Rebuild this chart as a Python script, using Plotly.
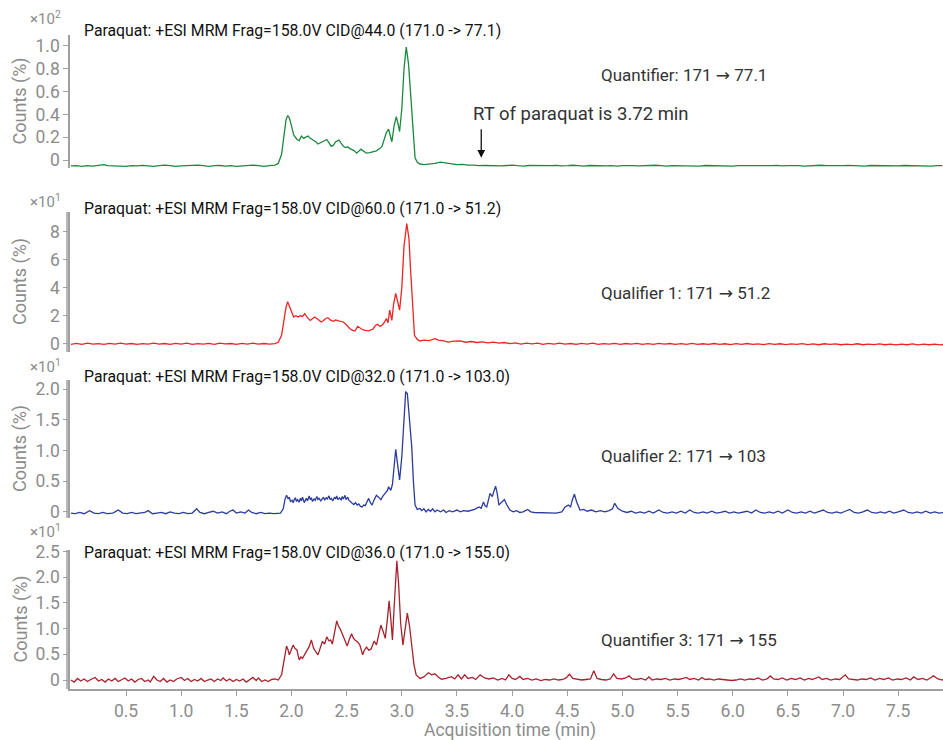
import plotly.graph_objects as go
from plotly.subplots import make_subplots

# ---------------------------------------------------------------
# MRM chromatograms of paraquat, four transitions (time in min,
# response in percent of the scaled counts for each trace)
# ---------------------------------------------------------------

# Quantifier 171 -> 77.1, counts x10^2
quant_77 = [
    (0.00, -0.052), (0.05, -0.050), (0.10, -0.055), (0.15, -0.050), (0.20, -0.053),
    (0.25, -0.048), (0.30, -0.040), (0.33, -0.050), (0.40, -0.053), (0.45, -0.050),
    (0.50, -0.055), (0.55, -0.050), (0.60, -0.052), (0.65, -0.047), (0.70, -0.050),
    (0.75, -0.055), (0.80, -0.050), (0.85, -0.045), (0.90, -0.050), (0.95, -0.055),
    (1.00, -0.052), (1.05, -0.048), (1.10, -0.050), (1.15, -0.045), (1.20, -0.050),
    (1.25, -0.055), (1.30, -0.050), (1.35, -0.048), (1.40, -0.053), (1.45, -0.050),
    (1.50, -0.055), (1.55, -0.050), (1.60, -0.047), (1.65, -0.045), (1.70, -0.050),
    (1.75, -0.055), (1.80, -0.050), (1.85, -0.045), (1.88, -0.030), (1.91, 0.050),
    (1.93, 0.200), (1.95, 0.350), (1.965, 0.390), (1.98, 0.370), (2.00, 0.300),
    (2.02, 0.220), (2.05, 0.180), (2.07, 0.170), (2.09, 0.210), (2.11, 0.190),
    (2.13, 0.200), (2.15, 0.210), (2.17, 0.190), (2.20, 0.175), (2.22, 0.160),
    (2.24, 0.140), (2.26, 0.150), (2.28, 0.160), (2.30, 0.170), (2.32, 0.180),
    (2.34, 0.150), (2.36, 0.120), (2.38, 0.130), (2.40, 0.160), (2.43, 0.175),
    (2.45, 0.150), (2.47, 0.120), (2.49, 0.110), (2.51, 0.115), (2.53, 0.100),
    (2.55, 0.090), (2.57, 0.080), (2.59, 0.060), (2.61, 0.080), (2.63, 0.095),
    (2.65, 0.080), (2.68, 0.060), (2.71, 0.065), (2.74, 0.070), (2.77, 0.080),
    (2.80, 0.100), (2.82, 0.120), (2.84, 0.180), (2.86, 0.240), (2.88, 0.270),
    (2.895, 0.220), (2.91, 0.160), (2.93, 0.300), (2.95, 0.380), (2.965, 0.320),
    (2.98, 0.250), (3.00, 0.450), (3.02, 0.800), (3.04, 0.990), (3.06, 0.850),
    (3.08, 0.580), (3.10, 0.250), (3.12, 0.020), (3.14, -0.020), (3.165, -0.035),
    (3.20, -0.040), (3.25, -0.035), (3.30, -0.030), (3.35, -0.018), (3.40, -0.025),
    (3.45, -0.035), (3.50, -0.040), (3.55, -0.038), (3.60, -0.045), (3.65, -0.044),
    (3.70, -0.050), (3.75, -0.048), (3.80, -0.050), (3.85, -0.046), (3.90, -0.052),
    (3.95, -0.048), (4.00, -0.045), (4.05, -0.050), (4.10, -0.053), (4.15, -0.048),
    (4.20, -0.050), (4.25, -0.046), (4.30, -0.052), (4.35, -0.050), (4.40, -0.047),
    (4.45, -0.052), (4.50, -0.050), (4.55, -0.046), (4.60, -0.050), (4.65, -0.053),
    (4.70, -0.048), (4.75, -0.050), (4.80, -0.046), (4.85, -0.051), (4.90, -0.049),
    (4.95, -0.053), (5.00, -0.050), (5.05, -0.047), (5.10, -0.050), (5.15, -0.052),
    (5.20, -0.048), (5.25, -0.050), (5.30, -0.046), (5.35, -0.050), (5.40, -0.053),
    (5.45, -0.049), (5.50, -0.050), (5.55, -0.047), (5.60, -0.051), (5.65, -0.050),
    (5.70, -0.053), (5.75, -0.048), (5.80, -0.050), (5.85, -0.047), (5.90, -0.051),
    (5.95, -0.050), (6.00, -0.053), (6.05, -0.049), (6.10, -0.050), (6.15, -0.046),
    (6.20, -0.050), (6.25, -0.052), (6.30, -0.048), (6.35, -0.050), (6.40, -0.047),
    (6.45, -0.052), (6.50, -0.050), (6.55, -0.048), (6.60, -0.050), (6.65, -0.053),
    (6.70, -0.049), (6.75, -0.050), (6.80, -0.046), (6.85, -0.050), (6.90, -0.052),
    (6.95, -0.048), (7.00, -0.050), (7.05, -0.047), (7.10, -0.051), (7.15, -0.050),
    (7.20, -0.053), (7.25, -0.048), (7.30, -0.050), (7.35, -0.047), (7.40, -0.051),
    (7.45, -0.050), (7.50, -0.052), (7.55, -0.048), (7.60, -0.050), (7.65, -0.047),
    (7.70, -0.051), (7.75, -0.050), (7.80, -0.053), (7.85, -0.049), (7.90, -0.050),
]

# Qualifier 1: 171 -> 51.2, counts x10^1
qual_51 = [
    (0.00, -0.05), (0.05, 0.02), (0.10, -0.06), (0.15, 0.03), (0.20, -0.04),
    (0.25, 0.00), (0.30, -0.05), (0.35, 0.02), (0.40, -0.03), (0.45, 0.03),
    (0.50, -0.04), (0.55, 0.01), (0.60, -0.05), (0.65, 0.00), (0.70, -0.03),
    (0.75, 0.03), (0.80, -0.04), (0.85, 0.01), (0.90, -0.05), (0.95, 0.02),
    (1.00, -0.03), (1.05, 0.03), (1.10, -0.05), (1.15, 0.00), (1.20, -0.03),
    (1.25, 0.02), (1.30, -0.05), (1.35, 0.03), (1.40, -0.02), (1.45, 0.01),
    (1.50, -0.05), (1.55, 0.02), (1.60, -0.03), (1.65, 0.03), (1.70, -0.04),
    (1.75, 0.01), (1.80, -0.03), (1.85, 0.00), (1.88, 0.10), (1.91, 0.60),
    (1.93, 1.60), (1.95, 2.60), (1.965, 3.00), (1.98, 2.70), (2.00, 2.20),
    (2.02, 1.90), (2.04, 2.00), (2.06, 1.90), (2.08, 2.00), (2.10, 1.95),
    (2.12, 2.15), (2.14, 1.90), (2.17, 1.66), (2.19, 1.75), (2.21, 1.90),
    (2.23, 1.80), (2.25, 1.70), (2.27, 1.55), (2.29, 1.65), (2.31, 1.80),
    (2.33, 1.86), (2.35, 1.70), (2.38, 1.60), (2.40, 1.70), (2.42, 1.65),
    (2.45, 1.60), (2.47, 1.55), (2.49, 1.40), (2.51, 1.20), (2.53, 1.07),
    (2.555, 0.95), (2.575, 0.90), (2.60, 1.24), (2.62, 1.15), (2.645, 1.00),
    (2.67, 0.95), (2.70, 0.92), (2.72, 0.98), (2.74, 1.05), (2.76, 1.30),
    (2.78, 1.38), (2.80, 1.25), (2.82, 1.30), (2.84, 1.50), (2.86, 1.80),
    (2.875, 1.50), (2.89, 2.40), (2.91, 1.66), (2.925, 2.80), (2.945, 3.60),
    (2.96, 3.00), (2.98, 2.40), (3.00, 4.00), (3.02, 7.00), (3.045, 8.60),
    (3.065, 7.50), (3.08, 5.20), (3.10, 2.20), (3.115, 0.60), (3.14, 0.30),
    (3.165, 0.19), (3.20, 0.25), (3.25, 0.22), (3.30, 0.36), (3.33, 0.25),
    (3.38, 0.20), (3.42, 0.11), (3.47, 0.18), (3.53, 0.19), (3.58, 0.10),
    (3.63, 0.15), (3.68, 0.08), (3.73, 0.12), (3.78, 0.05), (3.83, 0.10),
    (3.88, 0.03), (3.93, 0.08), (3.98, 0.00), (4.03, 0.05), (4.08, -0.03),
    (4.13, 0.04), (4.18, -0.02), (4.23, 0.03), (4.28, -0.05), (4.33, 0.02),
    (4.38, -0.03), (4.43, 0.03), (4.48, -0.04), (4.53, 0.01), (4.58, -0.05),
    (4.63, 0.02), (4.68, -0.03), (4.73, 0.03), (4.78, -0.05), (4.83, 0.00),
    (4.88, -0.04), (4.93, 0.02), (4.98, -0.05), (5.03, 0.01), (5.08, -0.04),
    (5.13, 0.02), (5.18, -0.06), (5.23, 0.00), (5.28, -0.05), (5.33, 0.02),
    (5.38, -0.04), (5.43, 0.01), (5.48, -0.06), (5.53, 0.00), (5.58, -0.05),
    (5.63, 0.02), (5.68, -0.06), (5.73, -0.01), (5.78, -0.05), (5.83, 0.01),
    (5.88, -0.06), (5.93, -0.01), (5.98, -0.07), (6.03, 0.00), (6.08, -0.05),
    (6.13, 0.01), (6.18, -0.06), (6.23, -0.02), (6.28, -0.07), (6.33, 0.00),
    (6.38, -0.05), (6.43, -0.01), (6.48, -0.07), (6.53, -0.02), (6.58, -0.06),
    (6.63, 0.00), (6.68, -0.07), (6.73, -0.02), (6.78, -0.08), (6.83, -0.01),
    (6.88, -0.06), (6.93, -0.02), (6.98, -0.08), (7.03, -0.03), (7.08, -0.07),
    (7.13, -0.01), (7.18, -0.08), (7.23, -0.03), (7.28, -0.07), (7.33, -0.02),
    (7.38, -0.08), (7.43, -0.03), (7.48, -0.09), (7.53, -0.03), (7.58, -0.08),
    (7.63, -0.02), (7.68, -0.09), (7.73, -0.04), (7.78, -0.08), (7.83, -0.03),
    (7.88, -0.09), (7.92, -0.05),
]

# Qualifier 2: 171 -> 103, counts x10^1
qual_103 = [
    (0.00, -0.02), (0.04, -0.03), (0.08, -0.01), (0.12, -0.03), (0.17, 0.02),
    (0.21, -0.02), (0.25, -0.03), (0.29, -0.01), (0.33, -0.03), (0.38, -0.02),
    (0.43, 0.03), (0.47, -0.02), (0.51, -0.03), (0.55, -0.01), (0.59, -0.03),
    (0.63, -0.02), (0.67, -0.01), (0.70, 0.02), (0.74, -0.03), (0.78, -0.02),
    (0.82, -0.01), (0.86, -0.03), (0.90, 0.00), (0.94, -0.02), (0.98, -0.03),
    (1.02, -0.01), (1.06, -0.03), (1.10, -0.02), (1.14, 0.05), (1.17, -0.01),
    (1.21, -0.03), (1.25, -0.01), (1.29, 0.01), (1.33, -0.02), (1.37, 0.00),
    (1.41, -0.03), (1.44, 0.01), (1.47, 0.03), (1.50, -0.02), (1.54, 0.00),
    (1.58, -0.02), (1.61, 0.03), (1.64, -0.01), (1.68, -0.03), (1.72, -0.01),
    (1.76, -0.03), (1.80, -0.02), (1.84, -0.03), (1.88, -0.02), (1.90, -0.02),
    (1.925, 0.05), (1.94, 0.20), (1.955, 0.27), (1.97, 0.21), (1.98, 0.24),
    (1.99, 0.17), (2.005, 0.19), (2.015, 0.15), (2.025, 0.20), (2.035, 0.23),
    (2.045, 0.17), (2.055, 0.20), (2.07, 0.16), (2.08, 0.22), (2.09, 0.18),
    (2.10, 0.24), (2.115, 0.15), (2.125, 0.19), (2.135, 0.22), (2.145, 0.18),
    (2.16, 0.26), (2.17, 0.20), (2.18, 0.23), (2.19, 0.17), (2.205, 0.21),
    (2.215, 0.19), (2.23, 0.25), (2.24, 0.20), (2.25, 0.22), (2.265, 0.18),
    (2.275, 0.20), (2.29, 0.24), (2.30, 0.19), (2.315, 0.23), (2.325, 0.21),
    (2.34, 0.26), (2.35, 0.20), (2.36, 0.22), (2.375, 0.18), (2.39, 0.24),
    (2.40, 0.21), (2.41, 0.26), (2.42, 0.20), (2.435, 0.23), (2.45, 0.19),
    (2.46, 0.25), (2.47, 0.21), (2.485, 0.27), (2.495, 0.20), (2.51, 0.24),
    (2.52, 0.19), (2.535, 0.16), (2.55, 0.14), (2.565, 0.12), (2.58, 0.15),
    (2.595, 0.11), (2.61, 0.13), (2.625, 0.09), (2.64, 0.08), (2.655, 0.11),
    (2.67, 0.10), (2.68, 0.15), (2.70, 0.22), (2.715, 0.15), (2.73, 0.11),
    (2.75, 0.20), (2.77, 0.27), (2.79, 0.24), (2.81, 0.20), (2.83, 0.26),
    (2.85, 0.30), (2.87, 0.35), (2.88, 0.41), (2.90, 0.35), (2.915, 0.45),
    (2.93, 0.80), (2.945, 1.02), (2.96, 0.80), (2.98, 0.52), (3.00, 0.90),
    (3.02, 1.60), (3.035, 1.96), (3.05, 1.93), (3.07, 1.55), (3.09, 1.06),
    (3.105, 0.50), (3.12, 0.11), (3.14, 0.04), (3.165, 0.055), (3.18, 0.02),
    (3.20, 0.05), (3.22, 0.00), (3.24, 0.04), (3.26, 0.01), (3.28, 0.05),
    (3.30, 0.00), (3.32, 0.03), (3.35, 0.00), (3.38, 0.03), (3.40, -0.01),
    (3.43, 0.02), (3.46, 0.00), (3.50, 0.03), (3.53, 0.00), (3.56, 0.02),
    (3.60, 0.01), (3.63, 0.03), (3.66, 0.04), (3.70, 0.08), (3.72, 0.06),
    (3.74, 0.16), (3.755, 0.10), (3.77, 0.08), (3.79, 0.22), (3.80, 0.30),
    (3.82, 0.25), (3.835, 0.35), (3.85, 0.42), (3.865, 0.30), (3.88, 0.11),
    (3.90, 0.15), (3.93, 0.20), (3.95, 0.12), (3.98, 0.03), (4.01, 0.00),
    (4.04, 0.02), (4.07, -0.01), (4.10, 0.00), (4.14, 0.04), (4.17, 0.00),
    (4.20, -0.01), (4.25, -0.01), (4.30, -0.02), (4.35, -0.01), (4.40, -0.02),
    (4.45, 0.00), (4.48, 0.08), (4.51, 0.11), (4.53, 0.08), (4.545, 0.19),
    (4.565, 0.29), (4.585, 0.16), (4.60, 0.08), (4.615, 0.03), (4.65, 0.04),
    (4.68, 0.01), (4.72, 0.03), (4.76, 0.00), (4.80, 0.02), (4.84, 0.00),
    (4.88, 0.02), (4.91, 0.05), (4.93, 0.14), (4.96, 0.055), (5.00, 0.01),
    (5.04, -0.01), (5.08, 0.01), (5.12, -0.02), (5.16, 0.00), (5.20, -0.02),
    (5.24, 0.01), (5.28, -0.02), (5.33, 0.03), (5.37, -0.01), (5.41, -0.02),
    (5.45, 0.00), (5.49, -0.02), (5.53, 0.01), (5.57, -0.02), (5.61, 0.03),
    (5.65, -0.01), (5.69, -0.02), (5.73, 0.00), (5.77, -0.02), (5.81, 0.01),
    (5.85, -0.02), (5.89, -0.01), (5.93, 0.01), (5.97, -0.02), (6.01, 0.00),
    (6.05, -0.02), (6.09, -0.01), (6.13, 0.01), (6.17, -0.02), (6.21, 0.03),
    (6.25, -0.01), (6.29, -0.02), (6.33, 0.00), (6.37, -0.02), (6.41, 0.01),
    (6.45, -0.02), (6.50, 0.03), (6.54, -0.01), (6.58, -0.02), (6.62, 0.00),
    (6.66, -0.02), (6.70, 0.01), (6.74, -0.02), (6.78, 0.00), (6.82, 0.03),
    (6.86, -0.01), (6.90, -0.02), (6.94, 0.00), (6.98, -0.02), (7.02, 0.01),
    (7.06, 0.04), (7.10, -0.01), (7.14, -0.02), (7.18, 0.00), (7.22, 0.03),
    (7.26, -0.01), (7.30, -0.02), (7.34, 0.00), (7.38, -0.02), (7.42, 0.01),
    (7.46, -0.02), (7.50, 0.00), (7.55, 0.03), (7.59, -0.01), (7.63, -0.02),
    (7.67, 0.00), (7.71, -0.02), (7.75, 0.01), (7.79, -0.02), (7.83, 0.00),
    (7.87, -0.02), (7.92, -0.01),
]

# Quantifier 3: 171 -> 155, counts x10^1
quant_155 = [
    (0.00, 0.00), (0.03, -0.04), (0.06, 0.03), (0.09, -0.02), (0.12, 0.02),
    (0.15, -0.03), (0.18, 0.01), (0.22, 0.05), (0.25, -0.02), (0.28, 0.01),
    (0.31, -0.04), (0.34, 0.02), (0.37, -0.02), (0.40, 0.03), (0.43, -0.03),
    (0.46, 0.01), (0.49, 0.04), (0.52, -0.02), (0.55, 0.02), (0.58, -0.04),
    (0.61, 0.01), (0.64, 0.03), (0.67, -0.03), (0.70, 0.00), (0.72, -0.04),
    (0.75, 0.07), (0.78, 0.00), (0.81, -0.03), (0.84, 0.03), (0.87, -0.04),
    (0.90, 0.00), (0.93, -0.03), (0.96, 0.02), (1.00, 0.05), (1.03, -0.01),
    (1.06, 0.03), (1.09, -0.03), (1.12, 0.01), (1.15, -0.02), (1.18, 0.03),
    (1.21, -0.03), (1.24, 0.00), (1.27, 0.02), (1.30, -0.03), (1.33, 0.02),
    (1.36, -0.01), (1.38, 0.04), (1.41, -0.02), (1.44, 0.02), (1.47, -0.03),
    (1.50, 0.01), (1.53, -0.02), (1.56, 0.02), (1.59, -0.04), (1.62, 0.01),
    (1.65, 0.05), (1.68, -0.01), (1.70, 0.04), (1.73, -0.03), (1.76, 0.00),
    (1.79, -0.03), (1.82, 0.01), (1.85, 0.02), (1.88, 0.00), (1.91, 0.10),
    (1.935, 0.40), (1.955, 0.66), (1.97, 0.58), (1.98, 0.49), (2.00, 0.60),
    (2.015, 0.68), (2.03, 0.62), (2.05, 0.58), (2.06, 0.48), (2.07, 0.39),
    (2.085, 0.45), (2.10, 0.42), (2.12, 0.50), (2.14, 0.58), (2.16, 0.65),
    (2.18, 0.78), (2.20, 0.62), (2.22, 0.55), (2.24, 0.49), (2.26, 0.62),
    (2.28, 0.75), (2.30, 0.70), (2.32, 0.84), (2.34, 0.76), (2.355, 0.78),
    (2.37, 0.70), (2.39, 0.95), (2.41, 1.15), (2.425, 1.05), (2.44, 1.00),
    (2.46, 0.90), (2.485, 0.78), (2.505, 0.66), (2.525, 0.80), (2.545, 0.90),
    (2.56, 0.82), (2.575, 0.78), (2.60, 0.74), (2.62, 0.68), (2.645, 0.49),
    (2.66, 0.58), (2.68, 0.64), (2.70, 0.58), (2.72, 0.60), (2.735, 0.70),
    (2.75, 0.76), (2.77, 0.68), (2.79, 0.85), (2.81, 1.07), (2.83, 0.95),
    (2.85, 0.81), (2.87, 1.20), (2.885, 1.54), (2.90, 1.20), (2.915, 0.78),
    (2.93, 1.40), (2.945, 2.10), (2.955, 2.32), (2.97, 1.90), (2.99, 1.10),
    (3.01, 0.68), (3.03, 1.00), (3.05, 1.30), (3.07, 1.05), (3.09, 0.65),
    (3.11, 0.30), (3.13, 0.10), (3.165, 0.03), (3.20, 0.06), (3.24, 0.14),
    (3.27, 0.10), (3.30, 0.12), (3.33, 0.06), (3.36, 0.015), (3.40, 0.03),
    (3.45, 0.065), (3.48, 0.02), (3.51, 0.10), (3.54, 0.02), (3.57, 0.10),
    (3.60, 0.03), (3.64, 0.05), (3.67, 0.01), (3.71, 0.10), (3.75, 0.04),
    (3.79, 0.02), (3.83, 0.04), (3.87, 0.00), (3.91, 0.03), (3.94, 0.00),
    (3.97, 0.10), (4.00, 0.03), (4.03, 0.01), (4.07, 0.07), (4.10, 0.01),
    (4.14, 0.03), (4.18, 0.00), (4.22, 0.02), (4.26, -0.01), (4.30, 0.01),
    (4.34, 0.00), (4.38, 0.02), (4.42, 0.00), (4.46, 0.01), (4.49, 0.04),
    (4.52, 0.11), (4.55, 0.03), (4.59, 0.01), (4.63, 0.00), (4.67, 0.01),
    (4.71, 0.02), (4.74, 0.18), (4.77, 0.03), (4.81, 0.01), (4.85, 0.00),
    (4.89, 0.02), (4.92, 0.12), (4.95, 0.03), (4.99, 0.02), (5.03, 0.04),
    (5.06, 0.08), (5.09, 0.02), (5.13, 0.01), (5.17, 0.03), (5.21, 0.00),
    (5.24, 0.06), (5.27, 0.00), (5.31, 0.02), (5.35, 0.01), (5.39, 0.03),
    (5.43, 0.00), (5.47, 0.02), (5.51, 0.01), (5.55, 0.03), (5.58, 0.05),
    (5.61, 0.01), (5.65, 0.03), (5.69, 0.00), (5.72, 0.05), (5.75, 0.01),
    (5.79, 0.02), (5.83, 0.00), (5.87, 0.02), (5.91, 0.01), (5.95, 0.00),
    (5.99, -0.01), (6.03, 0.00), (6.07, 0.02), (6.11, 0.00), (6.15, 0.02),
    (6.19, 0.01), (6.23, 0.04), (6.27, 0.00), (6.31, 0.02), (6.34, 0.08),
    (6.37, 0.02), (6.41, 0.01), (6.45, 0.04), (6.49, 0.00), (6.53, 0.03),
    (6.57, 0.01), (6.61, 0.04), (6.65, 0.00), (6.69, 0.03), (6.72, 0.01),
    (6.75, 0.04), (6.78, 0.06), (6.81, 0.01), (6.85, 0.03), (6.89, 0.00),
    (6.93, 0.02), (6.97, 0.01), (7.02, 0.10), (7.05, 0.02), (7.09, 0.01),
    (7.13, 0.00), (7.17, 0.02), (7.21, 0.01), (7.25, 0.04), (7.29, 0.00),
    (7.33, 0.03), (7.37, 0.01), (7.41, 0.04), (7.45, 0.00), (7.49, 0.02),
    (7.53, 0.01), (7.57, 0.04), (7.61, 0.00), (7.64, 0.06), (7.68, 0.01),
    (7.72, 0.03), (7.76, 0.00), (7.79, 0.04), (7.82, 0.08), (7.86, 0.02),
    (7.90, 0.00), (7.92, 0.03),
]

# Panel texts
chrom_titles = [
    "Paraquat: +ESI MRM Frag=158.0V CID@44.0 (171.0 -> 77.1)",
    "Paraquat: +ESI MRM Frag=158.0V CID@60.0 (171.0 -> 51.2)",
    "Paraquat: +ESI MRM Frag=158.0V CID@32.0 (171.0 -> 103.0)",
    "Paraquat: +ESI MRM Frag=158.0V CID@36.0 (171.0 -> 155.0)",
]
ARROW = "<span style=\"font-family:DejaVu Sans\">\u2192</span>"
transition_labels = [
    f"Quantifier: 171 {ARROW} 77.1",
    f"Qualifier 1: 171 {ARROW} 51.2",
    f"Qualifier 2: 171 {ARROW} 103",
    f"Quantifier 3: 171 {ARROW} 155",
]
scale_labels = ["\u00d710<sup>2</sup>", "\u00d710<sup>1</sup>", "\u00d710<sup>1</sup>", "\u00d710<sup>1</sup>"]
y_ticks = [
    [0, 0.2, 0.4, 0.6, 0.8, 1.0],
    [0, 2, 4, 6, 8],
    [0, 0.5, 1.0, 1.5, 2.0],
    [0, 0.5, 1.0, 1.5, 2.0, 2.5],
]
y_ticktext = [
    ["0", "0.2", "0.4", "0.6", "0.8", "1.0"],
    ["0", "2", "4", "6", "8"],
    ["0", "0.5", "1.0", "1.5", "2.0"],
    ["0", "0.5", "1.0", "1.5", "2.0", "2.5"],
]
x_ticks = [0.5, 1.0, 1.5, 2.0, 2.5, 3.0, 3.5, 4.0, 4.5, 5.0, 5.5, 6.0, 6.5, 7.0, 7.5]
x_ticktext = ["0.5", "1.0", "1.5", "2.0", "2.5", "3.0", "3.5", "4.0",
              "4.5", "5.0", "5.5", "6.0", "6.5", "7.0", "7.5"]
retention_time = 3.72

series = [quant_77, qual_51, qual_103, quant_155]
colors = ["#1b8a3e", "#ee2424", "#2b3c9c", "#a8222c"]

# ---------------------------------------------------------------
# Layout geometry (pixels on a 943 x 740 canvas)
# ---------------------------------------------------------------
W, H = 943, 740
FONT = "Roboto"
GRAY = "#8c8c8c"
AXIS_GRAY = "#a0a0a0"


def fx(px):
    return px / W


def fy(py):
    return 1 - py / H


panel_px = [(35, 168), (212, 352), (380, 518), (550, 689)]
y_ranges = [(-0.07, 1.096), (-0.6, 9.43), (-0.10, 2.15), (-0.175, 2.53)]
title_py = [30, 208, 376, 552]
label_py = [75, 293, 456, 640]
scale_py = [18, 201, 366, 531]
x_range = (-0.008, 7.906)
x_left_px = 70

fig = make_subplots(rows=4, cols=1, shared_xaxes=True)

for i, (data, col) in enumerate(zip(series, colors)):
    t, v = zip(*data)
    fig.add_trace(
        go.Scatter(x=list(t), y=list(v), mode="lines",
                   line=dict(color=col, width=1.3), showlegend=False,
                   hoverinfo="skip"),
        row=i + 1, col=1,
    )

for i in range(4):
    top, bot = panel_px[i]
    yname = "yaxis" if i == 0 else f"yaxis{i + 1}"
    xname = "xaxis" if i == 0 else f"xaxis{i + 1}"
    fig.layout[yname].update(
        domain=[fy(bot), fy(top)], range=list(y_ranges[i]),
        tickvals=y_ticks[i], ticktext=y_ticktext[i],
        showline=True, linecolor=AXIS_GRAY, linewidth=1.5,
        ticks="outside", ticklen=5, tickcolor=AXIS_GRAY, tickwidth=1,
        tickfont=dict(family=FONT, size=17.5, color=GRAY),
        showgrid=False, zeroline=False, automargin=False,
    )
    fig.layout[xname].update(
        domain=[fx(x_left_px), 1.0], range=list(x_range),
        showgrid=False, zeroline=False, automargin=False,
    )
    if i < 3:
        fig.layout[xname].update(showline=False, showticklabels=False, ticks="")
    else:
        fig.layout[xname].update(
            showline=True, linecolor=AXIS_GRAY, linewidth=1.5,
            ticks="outside", ticklen=5, tickcolor=AXIS_GRAY,
            tickvals=x_ticks, ticktext=x_ticktext,
            tickfont=dict(family=FONT, size=17.5, color=GRAY),
        )
    # second rule beside the value axis of the lower panels
    if i > 0:
        fig.add_shape(type="line", xref="paper", yref="paper",
                      x0=fx(x_left_px - 3), x1=fx(x_left_px - 3),
                      y0=fy(bot), y1=fy(top),
                      line=dict(color=AXIS_GRAY, width=1.5))

    # y axis title
    fig.add_annotation(text="Counts (%)", xref="paper", yref="paper",
                       x=fx(20), y=fy((top + bot) / 2), textangle=-90,
                       showarrow=False, xanchor="center", yanchor="middle",
                       font=dict(family=FONT, size=18, color=GRAY))
    # scale multiplier
    fig.add_annotation(text=scale_labels[i], xref="paper", yref="paper",
                       x=fx(28), y=fy(scale_py[i]), showarrow=False,
                       xanchor="left", yanchor="middle",
                       font=dict(family=FONT, size=15, color=GRAY))
    # chromatogram header
    fig.add_annotation(text=chrom_titles[i], xref="paper", yref="paper",
                       x=fx(82), y=fy(title_py[i]), showarrow=False,
                       xanchor="left", yanchor="middle",
                       font=dict(family=FONT, size=15.8, color="#111111"))
    # transition label
    fig.add_annotation(text=transition_labels[i], xref="paper", yref="paper",
                       x=fx(599), y=fy(label_py[i]), showarrow=False,
                       xanchor="left", yanchor="middle",
                       font=dict(family=FONT, size=17, color="#333333"))

# x axis title
fig.add_annotation(text="Acquisition time (min)", xref="paper", yref="paper",
                   x=fx(510), y=fy(730.5), showarrow=False,
                   xanchor="center", yanchor="middle",
                   font=dict(family=FONT, size=17.5, color=GRAY))

# retention time marker on the quantifier trace
fig.add_annotation(text="RT of paraquat is 3.72 min", xref="paper", yref="paper",
                   x=fx(471), y=fy(114), showarrow=False, xanchor="left",
                   yanchor="middle",
                   font=dict(family=FONT, size=18.5, color="#333333"))
fig.add_annotation(x=retention_time, y=0.02, xref="x", yref="y", text="",
                   showarrow=True, arrowhead=2, arrowsize=1.2, arrowwidth=1.3,
                   arrowcolor="#111111", ax=0, ay=-30, standoff=0)

fig.update_layout(
    width=W, height=H,
    margin=dict(l=0, r=0, t=0, b=0, autoexpand=False),
    paper_bgcolor="white", plot_bgcolor="white",
    font=dict(family=FONT),
    showlegend=False,
)

fig.write_html("out.html")
